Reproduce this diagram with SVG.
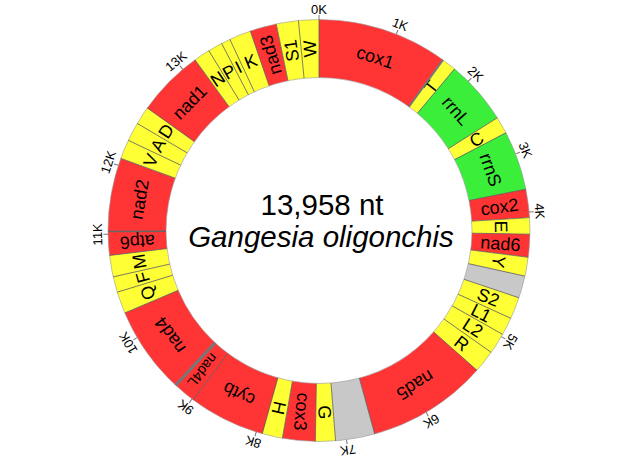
<svg xmlns="http://www.w3.org/2000/svg" width="640" height="460" viewBox="0 0 640 460">
<style>
.seg{fill:none;stroke-width:58}
.red{stroke:#FF3535}
.yel{stroke:#FFFF35}
.grn{stroke:#3AEE3A}
.nc{stroke:#C8C8C8}
.lbl{font-family:"Liberation Sans",Arial,sans-serif;font-size:18px;text-anchor:middle;dominant-baseline:central;fill:#000}
.sep{stroke:#555;stroke-width:0.7}
.tk{stroke:#777;stroke-width:1}
.tl{font-family:"Liberation Sans",Arial,sans-serif;font-size:13px;text-anchor:middle;fill:#000}
.edge{fill:none;stroke:#999;stroke-width:0.6}
</style>
<rect width="640" height="460" fill="#fff"/>
<g id="genes">
<g id="cox1"><circle class="seg red" cx="319" cy="230.5" r="182" pathLength="360" stroke-dasharray="36 360" transform="rotate(-90 319 230.5)"/><text class="lbl" x="319" y="48.5" transform="rotate(18 319 230.5)">cox1</text></g>
<g id="trnT"><circle class="seg yel" cx="319" cy="230.5" r="182" pathLength="360" stroke-dasharray="4 360" transform="rotate(-54 319 230.5)"/><text class="lbl" x="319" y="48.5" transform="rotate(38 319 230.5) rotate(-90 319 48.5)">T</text></g>
<g id="rrnL"><circle class="seg grn" cx="319" cy="230.5" r="182" pathLength="360" stroke-dasharray="17.7 360" transform="rotate(-50 319 230.5)"/><text class="lbl" x="319" y="48.5" transform="rotate(48.85 319 230.5)">rrnL</text></g>
<g id="trnC"><circle class="seg yel" cx="319" cy="230.5" r="182" pathLength="360" stroke-dasharray="4.7 360" transform="rotate(-32.3 319 230.5)"/><text class="lbl" x="319" y="48.5" transform="rotate(60.05 319 230.5) rotate(-90 319 48.5)">C</text></g>
<g id="rrnS"><circle class="seg grn" cx="319" cy="230.5" r="182" pathLength="360" stroke-dasharray="16.3 360" transform="rotate(-27.6 319 230.5)"/><text class="lbl" x="319" y="48.5" transform="rotate(70.55 319 230.5)">rrnS</text></g>
<g id="cox2"><circle class="seg red" cx="319" cy="230.5" r="182" pathLength="360" stroke-dasharray="7.8 360" transform="rotate(-11.3 319 230.5)"/><text class="lbl" x="319" y="48.5" transform="rotate(82.6 319 230.5) rotate(-90 319 48.5)">cox2</text></g>
<g id="trnE"><circle class="seg yel" cx="319" cy="230.5" r="182" pathLength="360" stroke-dasharray="4.5 360" transform="rotate(-3.5 319 230.5)"/><text class="lbl" x="319" y="48.5" transform="rotate(88.75 319 230.5)">E</text></g>
<g id="nad6"><circle class="seg red" cx="319" cy="230.5" r="182" pathLength="360" stroke-dasharray="6.3 360" transform="rotate(1 319 230.5)"/><text class="lbl" x="319" y="48.5" transform="rotate(94.15 319 230.5) rotate(-90 319 48.5)">nad6</text></g>
<g id="trnY"><circle class="seg yel" cx="319" cy="230.5" r="182" pathLength="360" stroke-dasharray="5.2 360" transform="rotate(7.3 319 230.5)"/><text class="lbl" x="319" y="48.5" transform="rotate(99.9 319 230.5)">Y</text></g>
<g id="nc1"><circle class="seg nc" cx="319" cy="230.5" r="182" pathLength="360" stroke-dasharray="6.1 360" transform="rotate(12.5 319 230.5)"/></g>
<g id="trnS2"><circle class="seg yel" cx="319" cy="230.5" r="182" pathLength="360" stroke-dasharray="6 360" transform="rotate(18.6 319 230.5)"/><text class="lbl" x="319" y="48.5" transform="rotate(111.6 319 230.5) rotate(-90 319 48.5)">S2</text></g>
<g id="trnL1"><circle class="seg yel" cx="319" cy="230.5" r="182" pathLength="360" stroke-dasharray="4.9 360" transform="rotate(24.6 319 230.5)"/><text class="lbl" x="319" y="48.5" transform="rotate(117.05 319 230.5) rotate(-90 319 48.5)">L1</text></g>
<g id="trnL2"><circle class="seg yel" cx="319" cy="230.5" r="182" pathLength="360" stroke-dasharray="5.8 360" transform="rotate(29.5 319 230.5)"/><text class="lbl" x="319" y="48.5" transform="rotate(122.4 319 230.5) rotate(-90 319 48.5)">L2</text></g>
<g id="trnR"><circle class="seg yel" cx="319" cy="230.5" r="182" pathLength="360" stroke-dasharray="6.2 360" transform="rotate(35.3 319 230.5)"/><text class="lbl" x="319" y="48.5" transform="rotate(128.4 319 230.5) rotate(-90 319 48.5)">R</text></g>
<g id="nad5"><circle class="seg red" cx="319" cy="230.5" r="182" pathLength="360" stroke-dasharray="33.2 360" transform="rotate(41.5 319 230.5)"/><text class="lbl" x="319" y="48.5" transform="rotate(148.1 319 230.5)">nad5</text></g>
<g id="nc2"><circle class="seg nc" cx="319" cy="230.5" r="182" pathLength="360" stroke-dasharray="10.8 360" transform="rotate(74.7 319 230.5)"/></g>
<g id="trnG"><circle class="seg yel" cx="319" cy="230.5" r="182" pathLength="360" stroke-dasharray="5.5 360" transform="rotate(85.5 319 230.5)"/><text class="lbl" x="319" y="48.5" transform="rotate(178.25 319 230.5) rotate(-90 319 48.5)">G</text></g>
<g id="cox3"><circle class="seg red" cx="319" cy="230.5" r="182" pathLength="360" stroke-dasharray="9 360" transform="rotate(91 319 230.5)"/><text class="lbl" x="319" y="48.5" transform="rotate(185.5 319 230.5) rotate(-90 319 48.5)">cox3</text></g>
<g id="trnH"><circle class="seg yel" cx="319" cy="230.5" r="182" pathLength="360" stroke-dasharray="5.6 360" transform="rotate(100 319 230.5)"/><text class="lbl" x="319" y="48.5" transform="rotate(192.8 319 230.5) rotate(-90 319 48.5)">H</text></g>
<g id="cytb"><circle class="seg red" cx="319" cy="230.5" r="182" pathLength="360" stroke-dasharray="21 360" transform="rotate(105.6 319 230.5)"/><text class="lbl" x="319" y="48.5" transform="rotate(206.1 319 230.5)">cytb</text></g>
<g id="nad4L"><circle class="seg red" cx="319" cy="230.5" r="182" pathLength="360" stroke-dasharray="6.2 360" transform="rotate(126.6 319 230.5)"/><text class="lbl" x="319" y="48.5" style="font-size:14px" transform="rotate(219.7 319 230.5) rotate(-90 319 48.5)">nad4L</text></g>
<g id="nad4"><circle class="seg red" cx="319" cy="230.5" r="182" pathLength="360" stroke-dasharray="24.2 360" transform="rotate(132.8 319 230.5)"/><text class="lbl" x="319" y="48.5" transform="rotate(234.9 319 230.5)">nad4</text></g>
<g id="trnQ"><circle class="seg yel" cx="319" cy="230.5" r="182" pathLength="360" stroke-dasharray="6 360" transform="rotate(157 319 230.5)"/><text class="lbl" x="319" y="48.5" transform="rotate(250 319 230.5)">Q</text></g>
<g id="trnF"><circle class="seg yel" cx="319" cy="230.5" r="182" pathLength="360" stroke-dasharray="4.3 360" transform="rotate(163 319 230.5)"/><text class="lbl" x="319" y="48.5" transform="rotate(255.15 319 230.5)">F</text></g>
<g id="trnM"><circle class="seg yel" cx="319" cy="230.5" r="182" pathLength="360" stroke-dasharray="5.9 360" transform="rotate(167.3 319 230.5)"/><text class="lbl" x="319" y="48.5" transform="rotate(260.25 319 230.5)">M</text></g>
<g id="atp6"><circle class="seg red" cx="319" cy="230.5" r="182" pathLength="360" stroke-dasharray="6.5 360" transform="rotate(173.2 319 230.5)"/><text class="lbl" x="319" y="48.5" transform="rotate(266.45 319 230.5) rotate(-90 319 48.5)">atp6</text></g>
<g id="nad2"><circle class="seg red" cx="319" cy="230.5" r="182" pathLength="360" stroke-dasharray="20.3 360" transform="rotate(179.7 319 230.5)"/><text class="lbl" x="319" y="48.5" transform="rotate(279.85 319 230.5)">nad2</text></g>
<g id="trnV"><circle class="seg yel" cx="319" cy="230.5" r="182" pathLength="360" stroke-dasharray="5.3 360" transform="rotate(200 319 230.5)"/><text class="lbl" x="319" y="48.5" transform="rotate(292.65 319 230.5)">V</text></g>
<g id="trnA"><circle class="seg yel" cx="319" cy="230.5" r="182" pathLength="360" stroke-dasharray="5.2 360" transform="rotate(205.3 319 230.5)"/><text class="lbl" x="319" y="48.5" transform="rotate(297.9 319 230.5)">A</text></g>
<g id="trnD"><circle class="seg yel" cx="319" cy="230.5" r="182" pathLength="360" stroke-dasharray="5 360" transform="rotate(210.5 319 230.5)"/><text class="lbl" x="319" y="48.5" transform="rotate(303 319 230.5)">D</text></g>
<g id="nad1"><circle class="seg red" cx="319" cy="230.5" r="182" pathLength="360" stroke-dasharray="18.5 360" transform="rotate(215.5 319 230.5)"/><text class="lbl" x="319" y="48.5" transform="rotate(314.75 319 230.5)">nad1</text></g>
<g id="trnN"><circle class="seg yel" cx="319" cy="230.5" r="182" pathLength="360" stroke-dasharray="4.5 360" transform="rotate(234 319 230.5)"/><text class="lbl" x="319" y="48.5" transform="rotate(326.25 319 230.5)">N</text></g>
<g id="trnP"><circle class="seg yel" cx="319" cy="230.5" r="182" pathLength="360" stroke-dasharray="4 360" transform="rotate(238.5 319 230.5)"/><text class="lbl" x="319" y="48.5" transform="rotate(330.5 319 230.5)">P</text></g>
<g id="trnI"><circle class="seg yel" cx="319" cy="230.5" r="182" pathLength="360" stroke-dasharray="2.5 360" transform="rotate(242.5 319 230.5)"/><text class="lbl" x="319" y="48.5" transform="rotate(333.75 319 230.5)">I</text></g>
<g id="trnK"><circle class="seg yel" cx="319" cy="230.5" r="182" pathLength="360" stroke-dasharray="6 360" transform="rotate(245 319 230.5)"/><text class="lbl" x="319" y="48.5" transform="rotate(338 319 230.5)">K</text></g>
<g id="nad3"><circle class="seg red" cx="319" cy="230.5" r="182" pathLength="360" stroke-dasharray="7.3 360" transform="rotate(251 319 230.5)"/><text class="lbl" x="319" y="48.5" transform="rotate(344.65 319 230.5) rotate(-90 319 48.5)">nad3</text></g>
<g id="trnS1"><circle class="seg yel" cx="319" cy="230.5" r="182" pathLength="360" stroke-dasharray="6.1 360" transform="rotate(258.3 319 230.5)"/><text class="lbl" x="319" y="48.5" transform="rotate(351.35 319 230.5) rotate(-90 319 48.5)">S1</text></g>
<g id="trnW"><circle class="seg yel" cx="319" cy="230.5" r="182" pathLength="360" stroke-dasharray="5.6 360" transform="rotate(264.4 319 230.5)"/><text class="lbl" x="319" y="48.5" transform="rotate(357.2 319 230.5) rotate(-90 319 48.5)">W</text></g>
</g>
<g id="ring-lines">
<circle class="edge" cx="319" cy="230.5" r="211"/>
<circle class="edge" cx="319" cy="230.5" r="153"/>
<g id="separators">
<line class="sep" x1="319" y1="77.5" x2="319" y2="19.5"/>
<line x1="319" y1="77.5" x2="319" y2="19.5" stroke="#777" stroke-width="2" transform="rotate(36 319 230.5)"/>
<line class="sep" x1="319" y1="77.5" x2="319" y2="19.5" transform="rotate(40 319 230.5)"/>
<line class="sep" x1="319" y1="77.5" x2="319" y2="19.5" transform="rotate(57.7 319 230.5)"/>
<line class="sep" x1="319" y1="77.5" x2="319" y2="19.5" transform="rotate(62.4 319 230.5)"/>
<line class="sep" x1="319" y1="77.5" x2="319" y2="19.5" transform="rotate(78.7 319 230.5)"/>
<line class="sep" x1="319" y1="77.5" x2="319" y2="19.5" transform="rotate(86.5 319 230.5)"/>
<line class="sep" x1="319" y1="77.5" x2="319" y2="19.5" transform="rotate(91 319 230.5)"/>
<line class="sep" x1="319" y1="77.5" x2="319" y2="19.5" transform="rotate(97.3 319 230.5)"/>
<line class="sep" x1="319" y1="77.5" x2="319" y2="19.5" transform="rotate(102.5 319 230.5)"/>
<line class="sep" x1="319" y1="77.5" x2="319" y2="19.5" transform="rotate(108.6 319 230.5)"/>
<line class="sep" x1="319" y1="77.5" x2="319" y2="19.5" transform="rotate(114.6 319 230.5)"/>
<line class="sep" x1="319" y1="77.5" x2="319" y2="19.5" transform="rotate(119.5 319 230.5)"/>
<line class="sep" x1="319" y1="77.5" x2="319" y2="19.5" transform="rotate(125.3 319 230.5)"/>
<line class="sep" x1="319" y1="77.5" x2="319" y2="19.5" transform="rotate(131.5 319 230.5)"/>
<line class="sep" x1="319" y1="77.5" x2="319" y2="19.5" transform="rotate(164.7 319 230.5)"/>
<line class="sep" x1="319" y1="77.5" x2="319" y2="19.5" transform="rotate(175.5 319 230.5)"/>
<line class="sep" x1="319" y1="77.5" x2="319" y2="19.5" transform="rotate(181 319 230.5)"/>
<line class="sep" x1="319" y1="77.5" x2="319" y2="19.5" transform="rotate(190 319 230.5)"/>
<line class="sep" x1="319" y1="77.5" x2="319" y2="19.5" transform="rotate(195.6 319 230.5)"/>
<line class="sep" x1="319" y1="77.5" x2="319" y2="19.5" transform="rotate(216.6 319 230.5)"/>
<line x1="319" y1="77.5" x2="319" y2="19.5" stroke="#777" stroke-width="3" transform="rotate(222.8 319 230.5)"/>
<line class="sep" x1="319" y1="77.5" x2="319" y2="19.5" transform="rotate(247 319 230.5)"/>
<line class="sep" x1="319" y1="77.5" x2="319" y2="19.5" transform="rotate(253 319 230.5)"/>
<line class="sep" x1="319" y1="77.5" x2="319" y2="19.5" transform="rotate(257.3 319 230.5)"/>
<line class="sep" x1="319" y1="77.5" x2="319" y2="19.5" transform="rotate(263.2 319 230.5)"/>
<line x1="319" y1="77.5" x2="319" y2="19.5" stroke="#666" stroke-width="1.5" transform="rotate(269.7 319 230.5)"/>
<line class="sep" x1="319" y1="77.5" x2="319" y2="19.5" transform="rotate(290 319 230.5)"/>
<line class="sep" x1="319" y1="77.5" x2="319" y2="19.5" transform="rotate(295.3 319 230.5)"/>
<line class="sep" x1="319" y1="77.5" x2="319" y2="19.5" transform="rotate(300.5 319 230.5)"/>
<line class="sep" x1="319" y1="77.5" x2="319" y2="19.5" transform="rotate(305.5 319 230.5)"/>
<line class="sep" x1="319" y1="77.5" x2="319" y2="19.5" transform="rotate(324 319 230.5)"/>
<line class="sep" x1="319" y1="77.5" x2="319" y2="19.5" transform="rotate(328.5 319 230.5)"/>
<line class="sep" x1="319" y1="77.5" x2="319" y2="19.5" transform="rotate(332.5 319 230.5)"/>
<line class="sep" x1="319" y1="77.5" x2="319" y2="19.5" transform="rotate(335 319 230.5)"/>
<line class="sep" x1="319" y1="77.5" x2="319" y2="19.5" transform="rotate(341 319 230.5)"/>
<line class="sep" x1="319" y1="77.5" x2="319" y2="19.5" transform="rotate(348.3 319 230.5)"/>
<line class="sep" x1="319" y1="77.5" x2="319" y2="19.5" transform="rotate(354.4 319 230.5)"/>
</g>
</g>
<g id="ticks">
<g transform="rotate(0 319 230.5)"><line class="tk" x1="319" y1="19.5" x2="319" y2="15"/><text class="tl" x="319" y="13.5">0K</text></g>
<g transform="rotate(21.5 319 230.5)"><line class="tk" x1="319" y1="19.5" x2="319" y2="15"/><text class="tl" x="319" y="13.5">1K</text></g>
<g transform="rotate(45 319 230.5)"><line class="tk" x1="319" y1="19.5" x2="319" y2="15"/><text class="tl" x="319" y="13.5">2K</text></g>
<g transform="rotate(68.7 319 230.5)"><line class="tk" x1="319" y1="19.5" x2="319" y2="15"/><text class="tl" x="319" y="13.5">3K</text></g>
<g transform="rotate(85 319 230.5)"><line class="tk" x1="319" y1="19.5" x2="319" y2="15"/><text class="tl" x="319" y="13.5">4K</text></g>
<g transform="rotate(120.2 319 230.5)"><line class="tk" x1="319" y1="19.5" x2="319" y2="15"/><text class="tl" x="319" y="13.5">5K</text></g>
<g transform="rotate(149.5 319 230.5)"><line class="tk" x1="319" y1="19.5" x2="319" y2="15"/><text class="tl" x="319" y="13.5">6K</text></g>
<g transform="rotate(172.5 319 230.5)"><line class="tk" x1="319" y1="19.5" x2="319" y2="15"/><text class="tl" x="319" y="13.5">7K</text></g>
<g transform="rotate(197.3 319 230.5)"><line class="tk" x1="319" y1="19.5" x2="319" y2="15"/><text class="tl" x="319" y="13.5">8K</text></g>
<g transform="rotate(217 319 230.5)"><line class="tk" x1="319" y1="19.5" x2="319" y2="15"/><text class="tl" x="319" y="13.5">9K</text></g>
<g transform="rotate(239.5 319 230.5)"><line class="tk" x1="319" y1="19.5" x2="319" y2="15"/><text class="tl" x="319" y="13.5">10K</text></g>
<g transform="rotate(269 319 230.5)"><line class="tk" x1="319" y1="19.5" x2="319" y2="15"/><text class="tl" x="319" y="13.5">11K</text></g>
<g transform="rotate(288 319 230.5)"><line class="tk" x1="319" y1="19.5" x2="319" y2="15"/><text class="tl" x="319" y="13.5">12K</text></g>
<g transform="rotate(319.8 319 230.5)"><line class="tk" x1="319" y1="19.5" x2="319" y2="15"/><text class="tl" x="319" y="13.5">13K</text></g>
</g>
<g id="title" font-family="'Liberation Sans',Arial,sans-serif" font-size="29.5" text-anchor="middle" fill="#000">
<text x="322" y="215">13,958 nt</text>
<text x="321" y="246.5" font-style="italic">Gangesia oligonchis</text>
</g>
</svg>
